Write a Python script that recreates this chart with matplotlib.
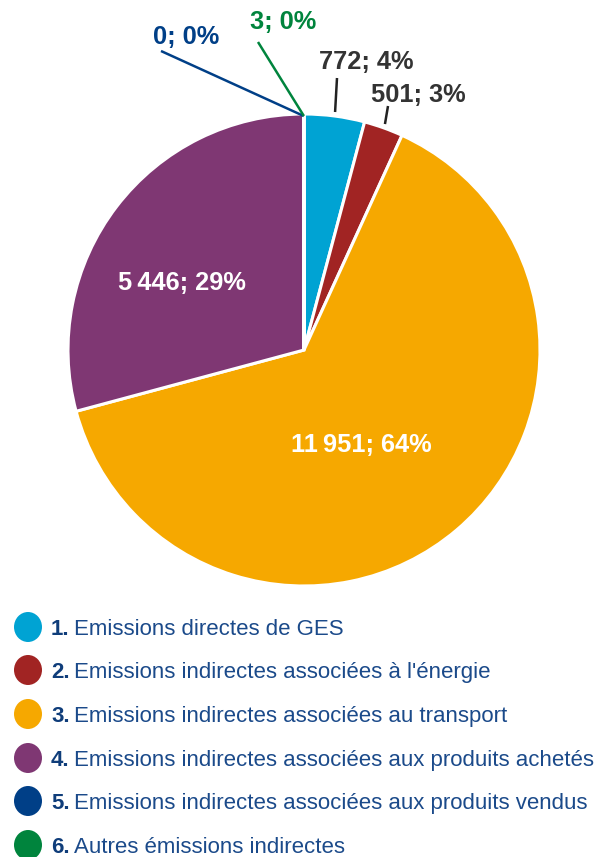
import numpy as np
import matplotlib
matplotlib.use('Agg')
import matplotlib.pyplot as plt
from matplotlib.patches import Ellipse

plt.rcParams['font.family'] = ['Liberation Sans', 'DejaVu Sans']

# data, in pie order (clockwise from the top)
numbers = ["1.", "2.", "3.", "4.", "5.", "6."]
names = ["Emissions directes de GES",
         "Emissions indirectes associées à l'énergie",
         "Emissions indirectes associées au transport",
         "Emissions indirectes associées aux produits achetés",
         "Emissions indirectes associées aux produits vendus",
         "Autres émissions indirectes"]
values = [772, 501, 11951, 5446, 0, 3]
labels = ["772; 4%", "501; 3%", "11\u2009951; 64%", "5\u2009446; 29%", "0; 0%", "3; 0%"]
colors = ["#00a3d3", "#a12423", "#f6a800", "#7f3773", "#003f87", "#00843d"]
label_colors = ["#333333", "#333333", "white", "white", "#003f87", "#00843d"]

W, H = 598, 857
fig = plt.figure(figsize=(W / 100, H / 100), dpi=100)
ax = fig.add_axes([0, 0, 1, 1])

def py(y):
    # picture y (top down) -> axes y
    return H - y

cx, cy, R = 304, py(350), 236
wedges, _ = ax.pie(values, colors=colors, startangle=90, counterclock=False,
                   center=(cx, cy), radius=R, frame=True,
                   wedgeprops=dict(edgecolor='white', linewidth=2.2))
ax.set_xlim(0, W)
ax.set_ylim(0, H)
ax.axis('off')

# label text positions (picture coords) and leader ends
text_pos = [(366, 62), (418, 95), (361, 445), (182, 283), (186, 37), (283, 22)]
leader_end = [(337, 78), (388, 106), None, None, (161, 51), (258, 42)]
leader_col = ["#222222", "#222222", None, None, "#003f87", "#00843d"]

for i, w in enumerate(wedges):
    tx, ty = text_pos[i]
    ax.text(tx, py(ty), labels[i], color=label_colors[i], fontsize=18.3,
            fontweight='bold', ha='center', va='center')
    if leader_end[i] is not None:
        mid = np.deg2rad((w.theta1 + w.theta2) / 2)
        r0 = R + 4 if values[i] > 100 else R - 2
        x0, y0 = cx + r0 * np.cos(mid), cy + r0 * np.sin(mid)
        ex, ey = leader_end[i]
        ax.plot([x0, ex], [y0, py(ey)], color=leader_col[i], lw=1.8,
                solid_capstyle='butt')

# legend
row_y = [627, 670, 714, 758, 801, 845]
for i in range(len(names)):
    yy = py(row_y[i])
    ax.add_patch(Ellipse((28, yy), 28, 30, color=colors[i], lw=0))
    ax.text(51, yy - 8, numbers[i], color="#0f3d7a", fontsize=16,
            fontweight='bold', ha='left', va='baseline')
    ax.text(74, yy - 8, names[i], color="#1b4a8a", fontsize=16,
            ha='left', va='baseline')

plt.savefig("out.png", dpi=100)
